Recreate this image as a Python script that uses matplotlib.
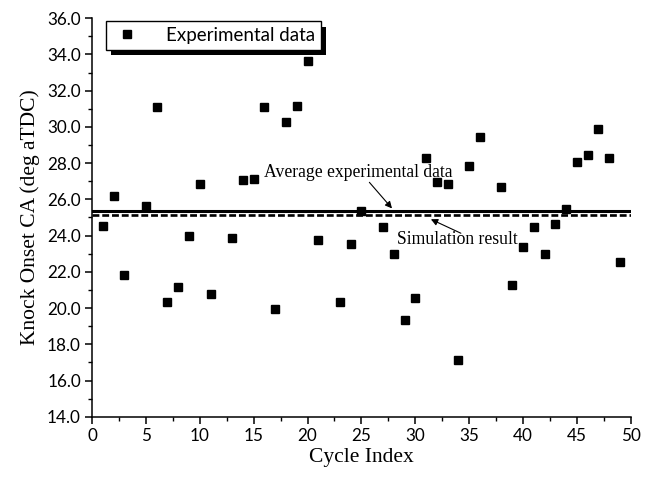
import matplotlib
matplotlib.use('Agg')
import matplotlib.pyplot as plt
from matplotlib.patches import Rectangle
from matplotlib.transforms import IdentityTransform
from matplotlib.ticker import MultipleLocator, FormatStrFormatter

# 실험 데이터 (사이클 번호, 노킹 발생 크랭크각)
cycle_idx = [1, 2, 3, 5, 6, 7, 8, 9, 10, 11, 13, 14, 15, 16, 17, 18, 19, 20,
             21, 23, 24, 25, 27, 28, 29, 30, 31, 32, 33, 34, 35, 36, 38, 39,
             40, 41, 42, 43, 44, 45, 46, 47, 48, 49]
knock_ca = [24.55, 26.19, 21.84, 25.64, 31.09, 20.35, 21.16, 23.96, 26.87, 20.76,
            23.87, 27.05, 27.14, 31.09, 19.93, 30.26, 31.17, 33.66, 23.74, 20.35,
            23.55, 25.33, 24.46, 22.97, 19.34, 20.54, 28.27, 26.96, 26.87, 17.15,
            27.86, 29.46, 26.67, 21.26, 23.37, 24.46, 22.97, 24.64, 25.45, 28.05,
            28.45, 29.87, 28.27, 22.54]

# 평균값 / 시뮬레이션 결과
avg_exp = 25.36
sim_result = 25.12
line_x = [0, 50]

SANS = ['Lato', 'DejaVu Sans']
SERIF = ['Liberation Serif', 'DejaVu Serif']

fig = plt.figure(figsize=(6.45, 4.79), dpi=100)
ax = fig.add_axes([0.1426, 0.130, 0.978 - 0.1426, 0.962 - 0.130])

ax.plot(cycle_idx, knock_ca, 's', color='black', markersize=5.8,
        label='Experimental data', zorder=3)
ax.plot(line_x, [avg_exp, avg_exp], '-', color='black', lw=2.2, zorder=2)
ax.plot(line_x, [sim_result, sim_result], color='black', lw=1.9,
        linestyle=(0, (2.6, 1.1)), zorder=2)

# 화살표 주석
arrow = dict(arrowstyle='-|>', color='black', lw=0.8, mutation_scale=10,
             shrinkA=0, shrinkB=0)
ax.text(15.93, 27.47, 'Average experimental data', family=SERIF, fontsize=12.7,
        va='center', ha='left')
ax.annotate('', xy=(27.84, 25.5), xytext=(25.74, 26.94), arrowprops=arrow)
ax.text(28.33, 23.76, 'Simulation result', family=SERIF, fontsize=12.7,
        va='center', ha='left')
ax.annotate('', xy=(31.45, 24.9), xytext=(34.23, 24.13), arrowprops=arrow)

ax.set_xlim(0, 50)
ax.set_ylim(14, 36)
ax.xaxis.set_major_locator(MultipleLocator(5))
ax.xaxis.set_minor_locator(MultipleLocator(2.5))
ax.yaxis.set_major_locator(MultipleLocator(2))
ax.yaxis.set_minor_locator(MultipleLocator(1))
ax.yaxis.set_major_formatter(FormatStrFormatter('%.1f'))

for side in ['top', 'right']:
    ax.spines[side].set_visible(False)
for side in ['left', 'bottom']:
    ax.spines[side].set_linewidth(1.1)

ax.tick_params(which='major', direction='out', length=5, width=1.1,
               labelsize=12.3, pad=3)
ax.tick_params(which='minor', direction='out', length=3, width=1.0)
for lbl in ax.get_xticklabels() + ax.get_yticklabels():
    lbl.set_family(SANS)

ax.set_xlabel('Cycle Index', family=SERIF, fontsize=15.5, labelpad=3)
ax.set_ylabel('Knock Onset CA (deg aTDC)', family=SERIF, fontsize=15.5, labelpad=5)

leg = ax.legend(loc='upper left', bbox_to_anchor=(0.026, 0.992), frameon=True,
                fancybox=False, edgecolor='black', framealpha=1,
                prop={'family': SANS, 'size': 13.5}, handletextpad=1.3,
                borderpad=0.3, handlelength=1.6, borderaxespad=0)
leg.get_frame().set_linewidth(1.0)
leg.set_zorder(5)

# 범례 그림자 (오른쪽 아래로 오프셋)
fig.canvas.draw()
bb = leg.get_window_extent()
ax.add_patch(Rectangle((bb.x0 + 5.5, bb.y0 - 5.5), bb.width, bb.height,
                       transform=IdentityTransform(), facecolor='black',
                       edgecolor='none', zorder=4.9, clip_on=False))

fig.savefig('out.png', dpi=100)
